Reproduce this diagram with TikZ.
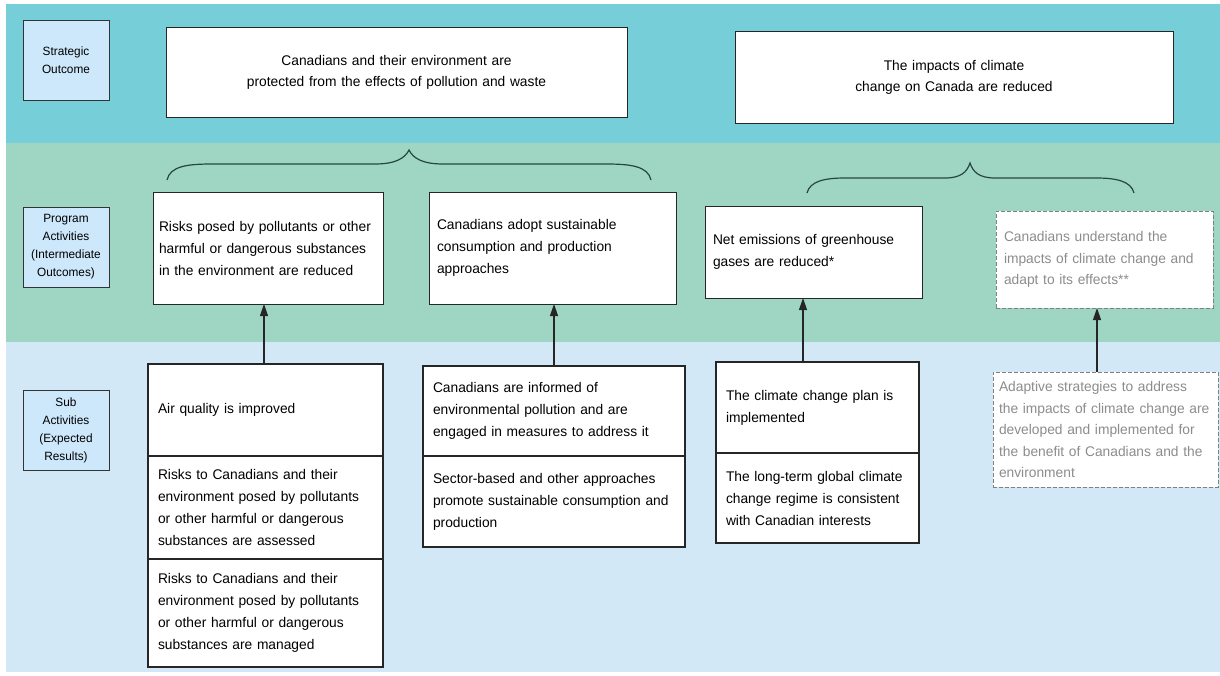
\documentclass[tikz,border=0pt]{standalone}
\usepackage{fontspec}
\setmainfont[FakeStretch=0.985]{Liberation Sans}
\usetikzlibrary{arrows.meta}
\definecolor{bandA}{RGB}{118,206,216}
\definecolor{bandB}{RGB}{158,214,195}
\definecolor{bandC}{RGB}{211,232,246}
\definecolor{lblfill}{RGB}{205,232,250}
\definecolor{bracec}{RGB}{40,70,65}
\definecolor{dashgray}{RGB}{128,128,128}
\definecolor{txtgray}{RGB}{140,140,140}
\begin{document}
\begin{tikzpicture}[x=1pt,y=-1pt,
 every node/.style={outer sep=0pt, inner ysep=0pt},
 lbl/.style={draw=black!80, fill=lblfill, line width=0.9pt, align=center, font=\fontsize{12}{18}\selectfont, text width=86pt, minimum height=80pt, anchor=north west, inner xsep=0pt},
 topbox/.style={draw=black!85, fill=white, line width=1pt, align=center, font=\fontsize{14}{21}\selectfont, anchor=north west, inner xsep=0pt},
 pabox/.style={draw=black!85, fill=white, line width=1pt, align=left, font=\fontsize{14}{22}\selectfont, anchor=north west, inner xsep=8pt},
 sabox/.style={draw=black!85, fill=white, line width=1.8pt, align=left, font=\fontsize{14}{22}\selectfont, anchor=north west, inner xsep=10pt},
 dbox/.style={draw=dashgray, dash pattern=on 4pt off 2pt, fill=white, line width=1pt, text=txtgray, align=left, font=\fontsize{14}{21.5}\selectfont, anchor=north west, inner xsep=8pt},
 arr/.style={-{Triangle[length=12pt,width=8pt]}, line width=1.2pt, draw=black!85, fill=black!85},
 brace/.style={draw=bracec, line width=1.2pt}]
\useasboundingbox (0,0) rectangle (1220,675);
\fill[white] (0,0) rectangle (1220,675);
% bands
\fill[bandA] (6,4) rectangle (1220,143);
\fill[bandB] (6,143) rectangle (1220,342);
\fill[bandC] (6,342) rectangle (1220,672);
% row labels
\node[lbl] (l1) at (23,20) {Strategic\\Outcome};
\node[lbl] (l2) at (23,207) {Program\\Activities\\(Intermediate\\Outcomes)};
\node[lbl] (l3) at (23,390) {Sub\\Activities\\(Expected\\Results)};
% strategic outcomes
\node[topbox, text width=461pt, minimum height=90pt] (so1) at (166,27) {Canadians and their environment are\\protected from the effects of pollution and waste};
\node[topbox, text width=438pt, minimum height=92pt] (so2) at (735,31) {The impacts of climate\\change on Canada are reduced};
% braces
\draw[brace] (167,180) .. controls (170,166) and (188,164) .. (212,164) -- (375,164) .. controls (396,164) and (405,158) .. (409,150) .. controls (413,158) and (422,164) .. (443,164) -- (606,164) .. controls (630,164) and (648,166) .. (651,180);
\draw[brace] (807,193) .. controls (810,181) and (825,178) .. (845,178) -- (945,178) .. controls (961,178) and (967,172) .. (970,163) .. controls (973,172) and (979,178) .. (995,178) -- (1096,178) .. controls (1116,178) and (1131,181) .. (1134,193);
% program activities
\node[pabox, inner xsep=6pt, text width=218pt, minimum height=112pt] (pa1) at (153,192) {Risks posed by pollutants or other\\harmful or dangerous substances\\in the environment are reduced};
\node[pabox, text width=231pt, minimum height=112pt] (pa2) at (429,192) {Canadians adopt sustainable\\consumption and production\\approaches};
\node[pabox, text width=201pt, minimum height=92pt] (pa3) at (705,206) {Net emissions of greenhouse\\gases are reduced*};
\node[dbox, text width=201pt, minimum height=97pt] (pa4) at (996,211) {Canadians understand the\\impacts of climate change and\\adapt to its effects**};
% sub activities
\node[sabox, text width=215pt, minimum height=92pt] (sa1a) at (148,364) {Air quality is improved};
\node[sabox, text width=215pt, minimum height=103pt] (sa1b) at (148,456) {Risks to Canadians and their\\environment posed by pollutants\\or other harmful or dangerous\\substances are assessed};
\node[sabox, text width=215pt, minimum height=108pt] (sa1c) at (148,559) {Risks to Canadians and their\\environment posed by pollutants\\or other harmful or dangerous\\substances are managed};
\node[sabox, text width=242pt, minimum height=90pt] (sa2a) at (423,366) {Canadians are informed of\\environmental pollution and are\\engaged in measures to address it};
\node[sabox, text width=242pt, minimum height=91pt] (sa2b) at (423,456) {Sector-based and other approaches\\promote sustainable consumption and\\production};
\node[sabox, text width=183pt, minimum height=91pt] (sa3a) at (716,362) {The climate change plan is\\implemented};
\node[sabox, text width=183pt, minimum height=90pt] (sa3b) at (716,453) {The long-term global climate\\change regime is consistent\\with Canadian interests};
\node[dbox, inner xsep=6pt, text width=213pt, minimum height=115pt] (sa4) at (993,372) {Adaptive strategies to address\\the impacts of climate change are\\developed and implemented for\\the benefit of Canadians and the\\environment};
% arrows
\coordinate (ax1) at (264,0);
\coordinate (ax2) at (554,0);
\coordinate (ax3) at (803,0);
\coordinate (ax4) at (1097,0);
\draw[arr] (sa1a.north -| ax1) -- (pa1.south -| ax1);
\draw[arr] (sa2a.north -| ax2) -- (pa2.south -| ax2);
\draw[arr] (sa3a.north -| ax3) -- (pa3.south -| ax3);
\draw[arr] (sa4.north -| ax4) -- (pa4.south -| ax4);
\end{tikzpicture}
\end{document}
